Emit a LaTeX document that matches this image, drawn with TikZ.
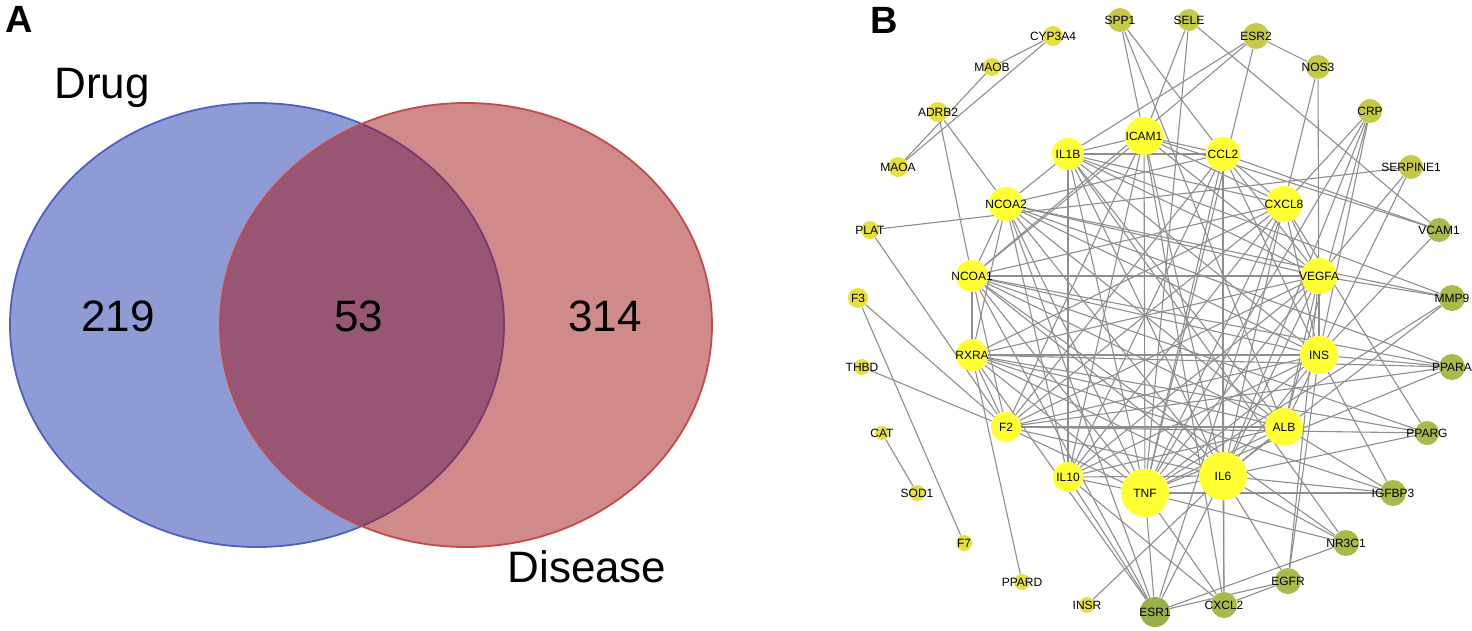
\documentclass[tikz,border=0pt]{standalone}
\usepackage{fontspec}
\setmainfont{Liberation Sans}
\usetikzlibrary{backgrounds}

\definecolor{drugblue}{HTML}{1F37A9}
\definecolor{drugedge}{HTML}{4F5FC5}
\definecolor{disred}{HTML}{A11515}
\definecolor{disedge}{HTML}{C24A4A}
\definecolor{hubyellow}{HTML}{FFFF33}
\definecolor{paleyellow}{HTML}{E6E03E}
\definecolor{oliveA}{HTML}{C6C946}
\definecolor{oliveB}{HTML}{A8BA4A}
\definecolor{oliveC}{HTML}{98B04C}
\definecolor{edgegray}{HTML}{8E8E8E}

\tikzset{
  panel/.style={font=\fontsize{19}{22}\selectfont\bfseries},
  setlabel/.style={font=\fontsize{22}{26}\selectfont},
  gene/.style={circle, inner sep=0pt, draw=none},
  glab/.style={font=\fontsize{6}{7}\selectfont, text=black, inner sep=0pt},
  link/.style={draw=edgegray, line width=0.55pt}
}

\begin{document}
\begin{tikzpicture}[x=0.5pt,y=-0.5pt]
    \useasboundingbox (0,0) rectangle (1472,631);

    % panel A: venn diagram
    \fill[drugblue, opacity=.5] (257,325) ellipse (247 and 222);
    \draw[drugedge, line width=0.9pt] (257,325) ellipse (247 and 222);
    \fill[disred, opacity=.5] (466,325) ellipse (246 and 222);
    \draw[disedge, line width=0.9pt] (466,325) ellipse (246 and 222);

    \node[panel] (labA) at (19,19) {A};
    \node[setlabel, anchor=base] (drug) at (102,98) {Drug};
    \node[setlabel, anchor=base] (disease) at (587,582) {Disease};
    \node[setlabel] (nleft) at (118,316) {219};
    \node[setlabel] (nmid) at (359,316) {53};
    \node[setlabel] (nright) at (605,316) {314};

    % panel B: target network
    \node[panel] (labB) at (884,20) {B};

    \foreach \n/\x/\y/\r/\c in {
        ICAM1/1144/136/19/hubyellow, IL1B/1068/154/16/hubyellow, CCL2/1223/154/17/hubyellow,
        NCOA2/1006/204/17/hubyellow, CXCL8/1284/204/18/hubyellow, NCOA1/972/276/16/hubyellow,
        VEGFA/1319/276/18/hubyellow, RXRA/972/355/16/hubyellow, INS/1319/355/19/hubyellow,
        F2/1006/427/15/hubyellow, ALB/1284/427/19/hubyellow, IL10/1068/477/15/hubyellow,
        TNF/1145/493/24/hubyellow, IL6/1223/476/24/hubyellow,
        CYP3A4/1053/36/10/paleyellow, MAOB/992/67/9/paleyellow, ADRB2/938/112/10/paleyellow,
        MAOA/898/167/10/paleyellow, PLAT/870/230/9/paleyellow, F3/858/298/10/paleyellow,
        THBD/862/367/8/paleyellow, CAT/882/433/7/paleyellow, SOD1/917/493/8/paleyellow,
        F7/964/543/8/paleyellow, PPARD/1022/582/8/paleyellow, INSR/1087/605/8/paleyellow,
        SPP1/1120/20/12/oliveA, SELE/1189/20/11/oliveA, ESR2/1256/36/13/oliveA,
        NOS3/1318/67/12/oliveA, CRP/1370/111/12/oliveA, SERPINE1/1411/167/12/oliveA,
        VCAM1/1439/230/12/oliveB, MMP9/1452/298/13/oliveB, PPARA/1452/367/13/oliveB,
        PPARG/1427/433/12/oliveB, IGFBP3/1393/493/13/oliveB, NR3C1/1346/543/13/oliveB,
        EGFR/1288/581/13/oliveB, CXCL2/1224/605/13/oliveB, ESR1/1155/612/15/oliveC} {
        \node[gene, fill=\c, minimum size=\r pt, label={[glab]center:\n}] (\n) at (\x,\y) {};
    }

    \begin{scope}[on background layer]
    % outer ring
    \foreach \a/\b in {CYP3A4/MAOB, CYP3A4/MAOA, MAOB/MAOA, ADRB2/NCOA2, ADRB2/NCOA1,
        PLAT/SERPINE1, PLAT/F2, F3/F7, F3/F2, THBD/F2, CAT/SOD1, PPARD/RXRA, INSR/IL6,
        SPP1/ICAM1, SPP1/ALB, SPP1/CCL2, SELE/ICAM1, SELE/TNF, SELE/VCAM1,
        ESR2/NOS3, ESR2/IL1B, ESR2/NCOA1, ESR2/TNF, NOS3/CXCL8, NOS3/INS,
        CRP/CXCL8, CRP/IL6, CRP/ALB, CRP/INS, CRP/TNF, SERPINE1/VEGFA, SERPINE1/INS,
        VCAM1/ICAM1, VCAM1/CCL2, VCAM1/INS, MMP9/VEGFA, MMP9/IL1B, MMP9/IL6, MMP9/TNF, MMP9/NCOA2,
        PPARA/INS, PPARA/RXRA, PPARA/NCOA1, PPARA/F2, PPARA/TNF,
        PPARG/RXRA, PPARG/NCOA1, PPARG/IL6, PPARG/CXCL8, PPARG/F2,
        IGFBP3/IL6, IGFBP3/TNF, IGFBP3/ALB, IGFBP3/INS, IGFBP3/RXRA,
        NR3C1/IL6, NR3C1/TNF, NR3C1/IL1B, NR3C1/ESR1, NR3C1/NCOA1,
        EGFR/CXCL2, EGFR/ESR1, EGFR/INS, EGFR/IL6, EGFR/VEGFA,
        CXCL2/IL6, CXCL2/TNF, CXCL2/IL10, CXCL2/CCL2, CXCL2/ICAM1,
        ESR1/TNF, ESR1/IL10, ESR1/IL6, ESR1/NCOA2, ESR1/NCOA1, ESR1/CXCL8, ESR1/RXRA} {
        \draw[link] (\a) -- (\b);
    }
    % hubs
    \foreach \a/\b in {IL1B/NCOA2, IL1B/ICAM1, IL1B/CCL2, IL1B/CXCL8, IL1B/VEGFA, IL1B/INS,
        IL1B/ALB, IL1B/IL6, IL1B/TNF, IL1B/IL10,
        ICAM1/NCOA1, ICAM1/CCL2, ICAM1/CXCL8, ICAM1/VEGFA, ICAM1/IL6, ICAM1/TNF, ICAM1/IL10, ICAM1/F2,
        CCL2/CXCL8, CCL2/VEGFA, CCL2/IL6, CCL2/TNF, CCL2/IL10, CCL2/INS, CCL2/F2, CCL2/NCOA2,
        CXCL8/VEGFA, CXCL8/TNF, CXCL8/IL6, CXCL8/IL10, CXCL8/INS, CXCL8/F2, CXCL8/NCOA1, CXCL8/RXRA,
        NCOA2/NCOA1, NCOA2/RXRA, NCOA2/INS, NCOA2/ALB, NCOA2/IL6, NCOA2/TNF, NCOA2/VEGFA,
        NCOA2/IL10, NCOA2/PPARA,
        NCOA1/RXRA, NCOA1/VEGFA, NCOA1/INS, NCOA1/ALB, NCOA1/IL6, NCOA1/TNF, NCOA1/F2,
        VEGFA/INS, VEGFA/ALB, VEGFA/IL6, VEGFA/TNF, VEGFA/IL10, VEGFA/F2, VEGFA/RXRA,
        RXRA/INS, RXRA/ALB, RXRA/IL6, RXRA/TNF, RXRA/F2,
        INS/ALB, INS/IL6, INS/TNF, INS/IL10, INS/F2,
        F2/ALB, F2/IL6, F2/TNF, ALB/IL6, ALB/TNF, ALB/IL10,
        IL10/TNF, IL10/IL6, TNF/IL6} {
        \draw[link] (\a) -- (\b);
    }
    \end{scope}
\end{tikzpicture}
\end{document}
